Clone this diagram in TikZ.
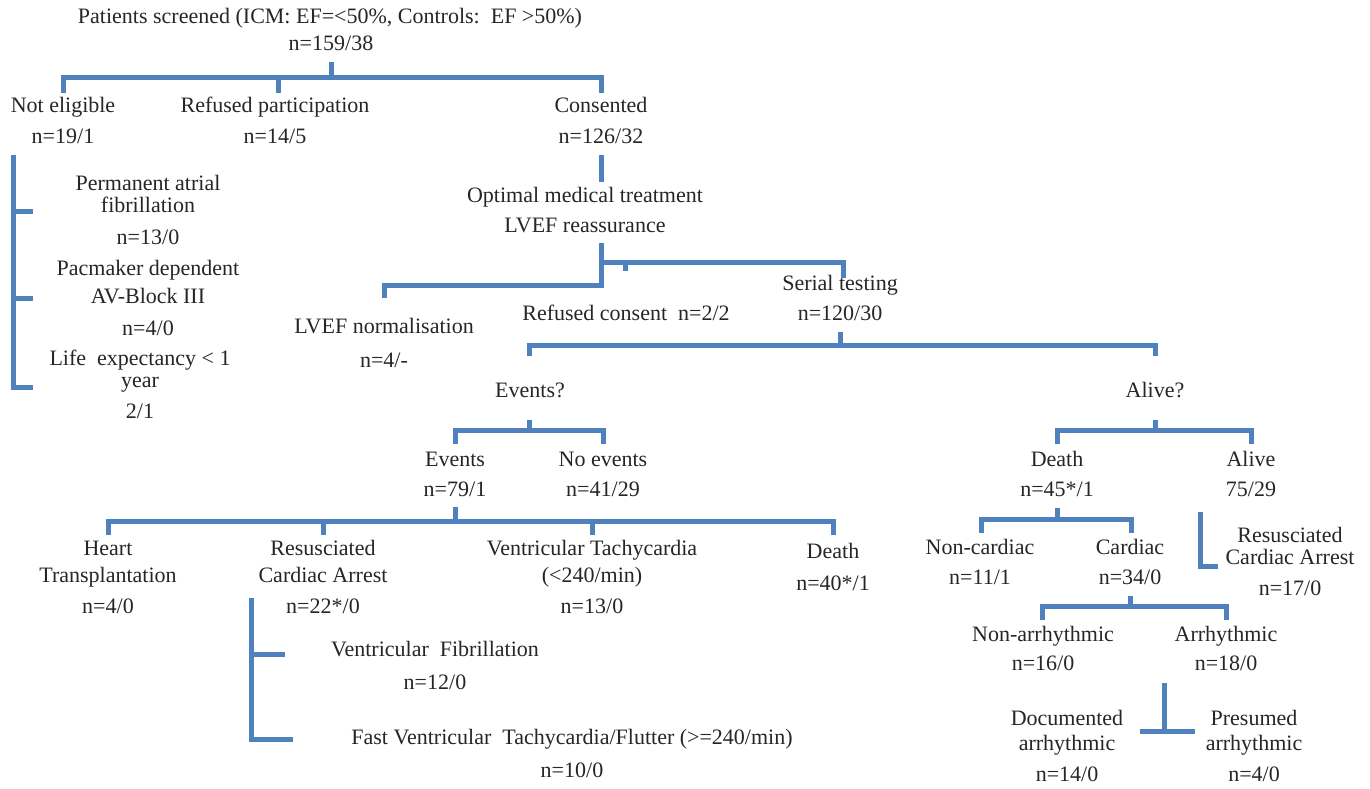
\documentclass[tikz,border=0pt]{standalone}
\usepackage{fontspec}
\setmainfont{Liberation Serif}
\definecolor{brc}{RGB}{79,129,189}
\begin{document}
\begin{tikzpicture}[x=1pt,y=-1pt,
  br/.style={draw=brc,line width=5pt,line join=miter},
  t/.style={inner sep=0pt,anchor=center,text height=15pt,text depth=5pt,text=black!85,font=\fontsize{22}{26}\selectfont}]
\useasboundingbox[fill=white] (0,0) rectangle (1370,789);
% ---------- text ----------
\node[t] (title1) at (330,19) {Patients screened (ICM: EF=<50\%, Controls:\ \ EF >50\%)};
\node[t] (title2) at (331,46) {n=159/38};
\node[t] (ne1) at (63,108) {Not eligible};
\node[t] (ne2) at (63,138) {n=19/1};
\node[t] (rp1) at (275,108) {Refused participation};
\node[t] (rp2) at (275,138) {n=14/5};
\node[t] (co1) at (601,108) {Consented};
\node[t] (co2) at (601,138) {n=126/32};
\node[t] (af1) at (148,185) {Permanent atrial};
\node[t] (af2) at (148,207) {fibrillation};
\node[t] (af3) at (148,239) {n=13/0};
\node[t] (pm1) at (148,270) {Pacmaker dependent};
\node[t] (pm2) at (148,298) {AV-Block III};
\node[t] (pm3) at (148,330) {n=4/0};
\node[t] (le1) at (140,360) {Life\ \ expectancy < 1};
\node[t] (le2) at (140,382) {year};
\node[t] (le3) at (140,413) {2/1};
\node[t] (om1) at (585,197) {Optimal medical treatment};
\node[t] (om2) at (585,227) {LVEF reassurance};
\node[t] (ln1) at (384,328) {LVEF normalisation};
\node[t] (ln2) at (384,362) {n=4/-};
\node[t] (rc) at (626,315) {Refused consent\ \ n=2/2};
\node[t] (st1) at (840,285) {Serial testing};
\node[t] (st2) at (840,315) {n=120/30};
\node[t] (evq) at (530,392) {Events?};
\node[t] (alq) at (1155,392) {Alive?};
\node[t] (ev1) at (455,461) {Events};
\node[t] (ev2) at (455,491) {n=79/1};
\node[t] (nev1) at (603,461) {No events};
\node[t] (nev2) at (603,491) {n=41/29};
\node[t] (ht1) at (108,550) {Heart};
\node[t] (ht2) at (108,577) {Transplantation};
\node[t] (ht3) at (108,608) {n=4/0};
\node[t] (rca1) at (323,550) {Resusciated};
\node[t] (rca2) at (323,577) {Cardiac Arrest};
\node[t] (rca3) at (323,608) {n=22*/0};
\node[t] (vt1) at (592,550) {Ventricular Tachycardia};
\node[t] (vt2) at (592,577) {(<240/min)};
\node[t] (vt3) at (592,608) {n=13/0};
\node[t] (de1) at (833,553) {Death};
\node[t] (de2) at (833,585) {n=40*/1};
\node[t] (vf1) at (435,651) {Ventricular\ \ Fibrillation};
\node[t] (vf2) at (435,684) {n=12/0};
\node[t] (fvt1) at (572,739) {Fast Ventricular\ \ Tachycardia/Flutter (>=240/min)};
\node[t] (fvt2) at (572,772) {n=10/0};
\node[t] (dd1) at (1057,461) {Death};
\node[t] (dd2) at (1057,491) {n=45*/1};
\node[t] (av1) at (1251,461) {Alive};
\node[t] (av2) at (1251,491) {75/29};
\node[t] (nc1) at (980,549) {Non-cardiac};
\node[t] (nc2) at (980,579) {n=11/1};
\node[t] (ca1) at (1130,549) {Cardiac};
\node[t] (ca2) at (1130,579) {n=34/0};
\node[t] (rcb1) at (1290,537) {Resusciated};
\node[t] (rcb2) at (1290,559) {Cardiac Arrest};
\node[t] (rcb3) at (1290,590) {n=17/0};
\node[t] (na1) at (1043,636) {Non-arrhythmic};
\node[t] (na2) at (1043,665) {n=16/0};
\node[t] (ar1) at (1226,636) {Arrhythmic};
\node[t] (ar2) at (1226,665) {n=18/0};
\node[t] (do1) at (1067,720) {Documented};
\node[t] (do2) at (1067,745) {arrhythmic};
\node[t] (do3) at (1067,776) {n=14/0};
\node[t] (pr1) at (1254,720) {Presumed};
\node[t] (pr2) at (1254,745) {arrhythmic};
\node[t] (pr3) at (1254,776) {n=4/0};
% ---------- connectors ----------
% top
\draw[br] (title2.south |- 0,62) -- (title2.south |- 0,78);
\draw[br] (ne1.north |- 0,93) -- (ne1.north |- 0,78) -- (co1.north |- 0,78) -- (co1.north |- 0,93);
\coordinate (rpa) at (278,78);
\coordinate (rpb) at (278,93);
\draw[br] (rpa) -- (rpb);
% not eligible
\draw[br] (33,211) -- (13,211);
\draw[br] (33,298) -- (13,298);
\draw[br] (13,155) -- (13,387) -- (33,387);
% consented
\draw[br] (co2.south |- 0,155) -- (co2.south |- 0,182);
\draw[br] (601,243) -- (601,285) -- (384,285) -- (384,298);
\draw[br] (601,262) -- (843,262) -- (843,278);
\draw[br] (625,262) -- (625,271);
% serial testing
\draw[br] (st2.south |- 0,332) -- (st2.south |- 0,345);
\draw[br] (529,356) -- (529,345) -- (1155,345) -- (1155,356);
% events
\draw[br] (529,420) -- (529,430);
\draw[br] (455,444) -- (455,430) -- (603,430) -- (603,444);
\draw[br] (ev2.south |- 0,507) -- (ev2.south |- 0,521);
\draw[br] (108,535) -- (108,521) -- (833,521) -- (833,535);
\draw[br] (323,521) -- (323,535);
\draw[br] (592,521) -- (592,535);
\draw[br] (251,598) -- (251,739) -- (293,739);
\draw[br] (251,654) -- (285,654);
% alive
\draw[br] (alq.south |- 0,420) -- (alq.south |- 0,430);
\draw[br] (1057,444) -- (1057,430) -- (1251,430) -- (1251,444);
\draw[br] (dd2.south |- 0,508) -- (dd2.south |- 0,519);
\draw[br] (981,533) -- (981,519) -- (1131,519) -- (1131,533);
\draw[br] (1200,512) -- (1200,566) -- (1218,566);
\draw[br] (ca2.south |- 0,596) -- (ca2.south |- 0,606);
\draw[br] (1042,620) -- (1042,606) -- (1226,606) -- (1226,620);
\draw[br] (1164,683) -- (1164,731);
\draw[br] (1140,731) -- (1195,731);
\end{tikzpicture}
\end{document}
